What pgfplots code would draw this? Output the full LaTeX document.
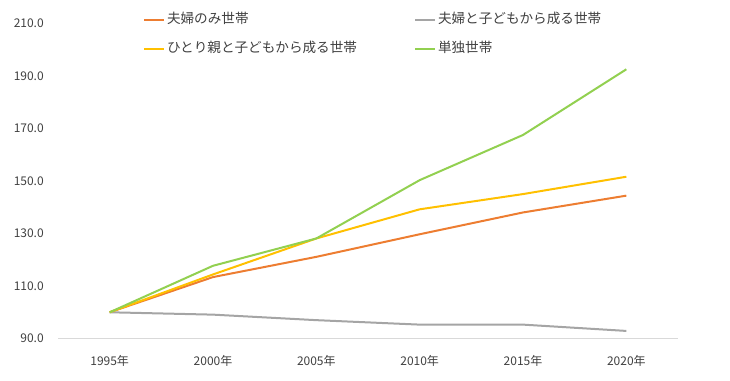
\documentclass[border=0pt]{standalone}
\usepackage{pgfplots}
\pgfplotsset{compat=1.18}
\usepackage{fontspec}
\setmainfont{Noto Sans CJK JP}
\definecolor{cOrange}{HTML}{ED7D31}
\definecolor{cGray}{HTML}{A5A5A5}
\definecolor{cYellow}{HTML}{FFC000}
\definecolor{cGreen}{HTML}{92D050}
\definecolor{cText}{HTML}{404040}
\definecolor{cAxis}{HTML}{D9D9D9}
\begin{document}
\begin{tikzpicture}
\useasboundingbox (-43.5pt,-31.1pt) rectangle (504pt,253.9pt);
\begin{axis}[
  at={(0pt,0pt)}, anchor=south west,
  scale only axis,
  width=465pt, height=236.4pt,
  xmin=-0.5, xmax=5.5,
  ymin=90, ymax=210,
  xtick={0,1,2,3,4,5},
  xticklabels={1995年,2000年,2005年,2010年,2015年,2020年},
  ytick={90,110,130,150,170,190,210},
  yticklabel={\pgfmathprintnumber[fixed,fixed zerofill,precision=1]{\tick}},
  /pgf/number format/assume math mode=true,
  axis x line*=bottom, axis y line*=left,
  x axis line style={draw=cAxis, line width=0.75pt, -},
  y axis line style={draw=none},
  major tick length=0pt,
  tick style={draw=none},
  xticklabel style={font=\fontsize{9}{10}\selectfont, text=cText, anchor=center, inner sep=0pt, yshift=-16.9pt},
  yticklabel style={font=\fontsize{9}{10}\selectfont, text=cText, anchor=east, inner sep=0pt, xshift=-10.5pt},
  clip=false,
  legend columns=2,
  legend cell align=left,
  legend image code/.code={\draw[#1] (0pt,0pt) -- (15pt,0pt);},
  legend style={at={(0.1371,1.0322)}, anchor=north west, draw=none, fill=none,
    inner sep=0pt, outer sep=0pt, column sep=0pt, row sep=11.75pt,
    font=\fontsize{10.2}{11}\selectfont, text=cText,
    nodes={inner sep=0pt, text height=7.5pt, text depth=2.5pt}},
  every axis plot/.append style={line width=1.5pt, mark=none, line join=round},
]
\addplot[cOrange] coordinates {(0,100) (1,113.4) (2,121.1) (3,129.7) (4,138.0) (5,144.4)};
\addlegendentry{\makebox[186.75pt][l]{\hspace{1.5pt}夫婦のみ世帯}}
\addplot[cGray] coordinates {(0,100) (1,99.1) (2,97.0) (3,95.3) (4,95.3) (5,92.9)};
\addlegendentry{\hspace{1.5pt}夫婦と子どもから成る世帯}
\addplot[cYellow] coordinates {(0,100) (1,114.4) (2,128.1) (3,139.2) (4,145.0) (5,151.6)};
\addlegendentry{\makebox[186.75pt][l]{\hspace{1.5pt}ひとり親と子どもから成る世帯}}
\addplot[cGreen] coordinates {(0,100) (1,117.7) (2,128.1) (3,150.3) (4,167.5) (5,192.5)};
\addlegendentry{\hspace{1.5pt}単独世帯}
\end{axis}
\end{tikzpicture}
\end{document}
